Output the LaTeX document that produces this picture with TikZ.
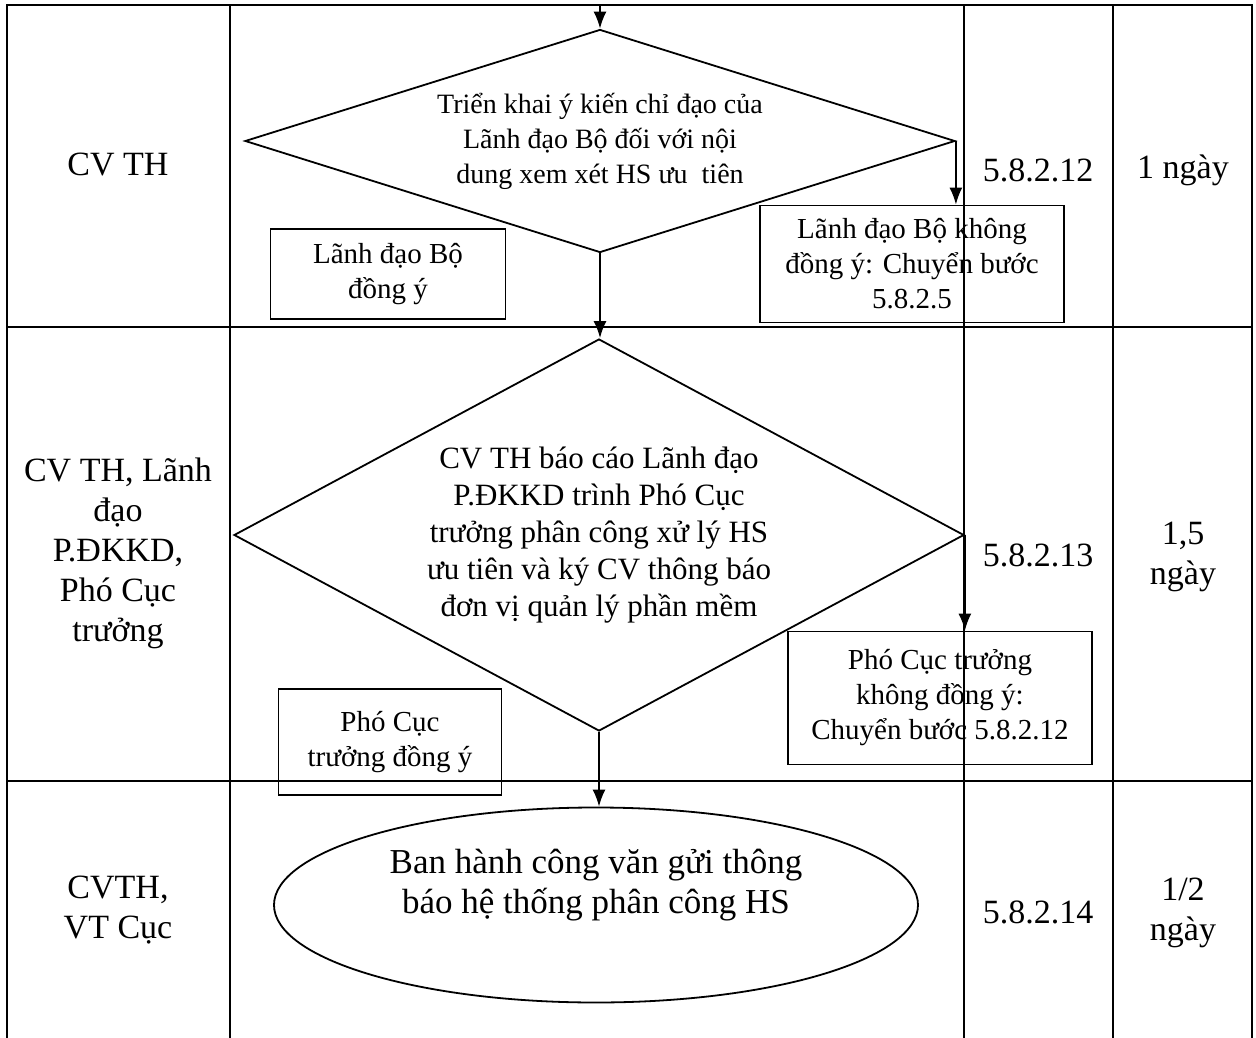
\documentclass[tikz,border=0pt]{standalone}
\usepackage{fontspec}
\setmainfont{Liberation Serif}
\usetikzlibrary{arrows.meta, shapes.geometric}
\tikzset{>={Latex[length=17pt,width=13pt]}}
\tikzset{cell/.style={align=center, font=\fontsize{34}{40}\selectfont},
  box/.style={draw, align=center, inner sep=0pt, font=\fontsize{29}{35}\selectfont},
  decision/.style={draw, diamond, inner sep=0pt, align=center}}

\begin{document}
\begin{tikzpicture}[x=1pt, y=-1pt, line width=1.8pt]
\useasboundingbox (0,0) rectangle (1256,1038);
% table
\draw (7,1038) -- (7,5) -- (1252,5) -- (1252,1038);
\draw (230,5) -- (230,1038);
\draw (964,5) -- (964,1038);
\draw (1113,5) -- (1113,1038);
\draw (7,327) -- (1252,327);
\draw (7,781) -- (1252,781);
% left and right columns
\node[cell] (who1) at (118,165) {CV TH};
\node[cell] (who2) at (118,553) {CV TH, Lãnh\\đạo\\P.ĐKKD,\\Phó Cục\\trưởng};
\node[cell] (who3) at (118,910) {CVTH,\\VT Cục};
\node[cell] (step1) at (1038,170) {5.8.2.12};
\node[cell] (step2) at (1038,555) {5.8.2.13};
\node[cell] (step3) at (1038,912) {5.8.2.14};
\node[cell] (time1) at (1183,170) {1 ngày};
\node[cell] (time2) at (1183,557) {1,5\\ngày};
\node[cell] (time3) at (1183,913) {1/2\\ngày};
% flow
\node[decision, aspect=3.2, minimum width=710pt, minimum height=223pt,
  font=\fontsize{28}{35}\selectfont] (trienkhai) at (600,141)
  {Triển khai ý kiến chỉ đạo của\\Lãnh đạo Bộ đối với nội\\dung xem xét HS ưu\ \ tiên};
\node[decision, aspect=1.86, minimum width=730pt, minimum height=392pt,
  font=\fontsize{31}{37}\selectfont] (baocao) at (599,535)
  {CV TH báo cáo Lãnh đạo\\P.ĐKKD trình Phó Cục\\trưởng phân công xử lý HS\\ưu tiên và ký CV thông báo\\đơn vị quản lý phần mềm};
\node[draw, ellipse, inner sep=0pt, minimum width=644pt, minimum height=195pt] (banhanh) at (596,905) {};
\node[align=center, font=\fontsize{35}{40}\selectfont] (banhanhtext) at ([yshift=20pt]banhanh.center)
  {Ban hành công văn gửi thông\\báo hệ thống phân công HS};
\node[box, minimum width=235pt, minimum height=90pt] (dongy1) at (388,274) {Lãnh đạo Bộ\\đồng ý};
\node[box, minimum width=304pt, minimum height=117pt] (khong1) at (912,264) {Lãnh đạo Bộ không\\đồng ý: Chuyển bước\\5.8.2.5};
\node[box, minimum width=223pt, minimum height=106pt] (dongy2) at (390,742) {Phó Cục\\trưởng đồng ý};
\node[box, minimum width=304pt, minimum height=133pt] (khong2) at (940,698) {Phó Cục trưởng\\không đồng ý:\\Chuyển bước 5.8.2.12};
\coordinate (vao) at (600,5);
\draw[->] (vao) -- (trienkhai.north);
\draw[->] (trienkhai.south) -- (trienkhai.south |- baocao.north);
\draw[->] (baocao.south) -- (baocao.south |- banhanh.north);
\draw[->] (trienkhai.east) -- (trienkhai.east |- khong1.north);
\draw[->] (baocao.east) -- (baocao.east |- khong2.north);
\end{tikzpicture}
\end{document}
